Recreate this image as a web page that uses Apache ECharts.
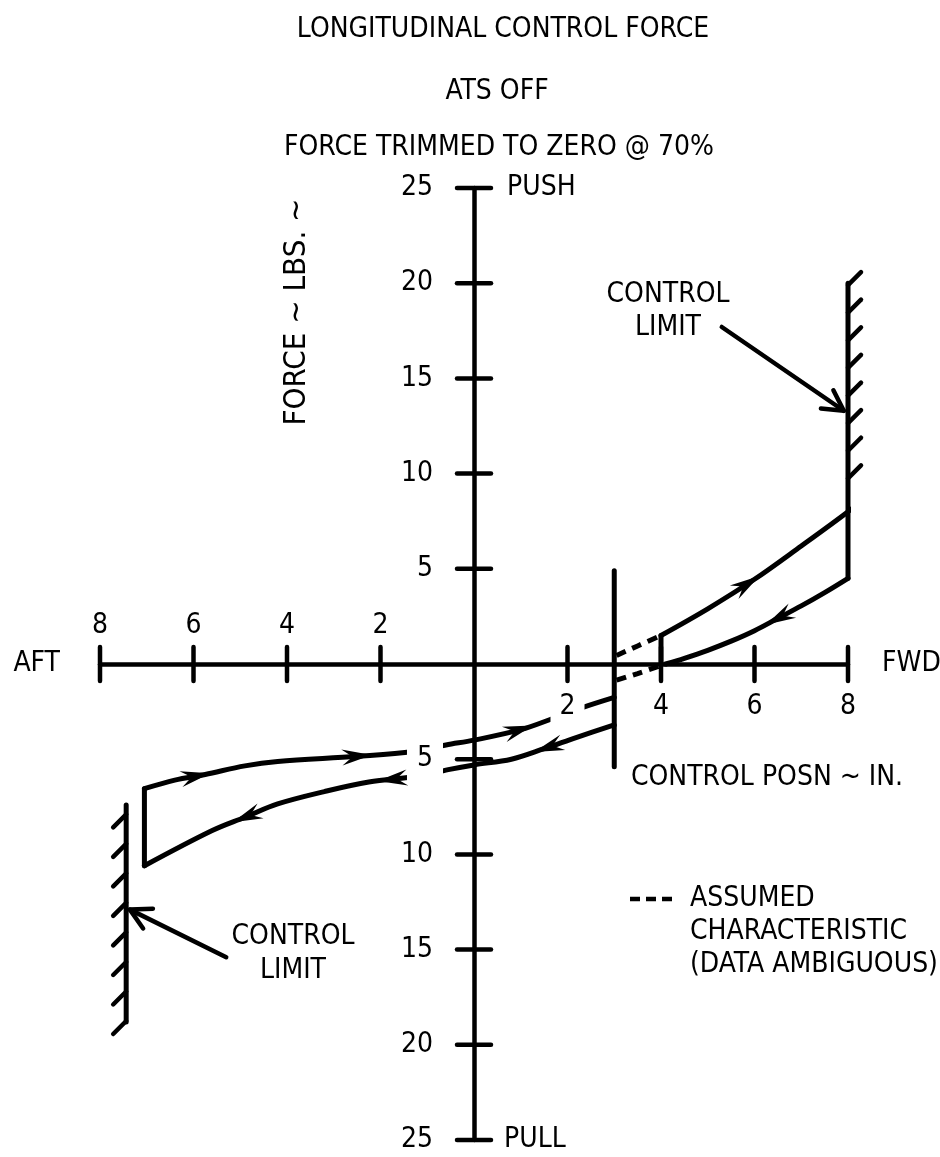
<!DOCTYPE html>
<html>
<head>
<meta charset="utf-8">
<script src="https://cdn.jsdelivr.net/npm/echarts@6/dist/echarts.min.js"></script>
<style>
  html, body { margin: 0; padding: 0; background: #fff; }
  #chart { width: 940px; height: 1157px; }
</style>
</head>
<body>
<div id="chart"></div>
<script>
// Longitudinal control force vs. control position (ATS off, trimmed to zero at 70%).
// Positive x = forward (in.), negative x = aft; positive force = push, negative = pull.

const FONT = '"Liberation Sans Narrow", "DejaVu Sans Condensed", "Liberation Sans", sans-serif';
const INK = '#000';
const LINE_W = 5;

// Axis ticks
const xTicks = [-8, -6, -4, -2, 2, 4, 6, 8];
const yTicks = [-25, -20, -15, -10, -5, 5, 10, 15, 20, 25];

// Forward (push) loop
const fwdOut  = [[4.0, 1.5], [5.0, 2.9], [6.0, 4.45], [7.0, 6.2], [8.0, 8.0], [8.4, 8.8]];
const fwdBack = [[8.0, 4.5], [7.5, 3.75], [7.0, 3.05], [6.5, 2.4], [6.0, 1.75], [5.5, 1.2], [5.0, 0.72], [4.5, 0.3], [4.1, 0.0]];
const fwdStep = [[4.0, 0.0], [4.0, 1.5]];

// Aft (pull) loop
const aftOut  = [[-7.05, -6.55], [-6.4, -6.1], [-5.75, -5.8], [-4.9, -5.35], [-4.2, -5.12], [-2.5, -4.85],
                 [-1.3, -4.6], [-0.6, -4.25], [0.0, -4.0], [1.0, -3.45], [1.7, -2.85], [2.3, -2.3], [3.0, -1.75]];
const aftBack = [[3.0, -3.2], [2.2, -3.85], [1.5, -4.45], [0.8, -5.0], [0.0, -5.3], [-0.55, -5.55], [-1.2, -5.9],
                 [-2.25, -6.2], [-3.2, -6.7], [-4.2, -7.35], [-4.9, -8.05], [-5.6, -8.75], [-7.05, -10.6]];
const aftStep = [[-7.05, -10.6], [-7.05, -6.55]];

// Breakout line at 3 in. forward
const breakout = [[3.0, 4.9], [3.0, -5.4]];

// Assumed characteristic (data ambiguous) – dashed
const assumedUpper = [[3.05, 0.45], [3.5, 0.95], [4.0, 1.5]];
const assumedLower = [[3.05, -0.85], [3.5, -0.5], [4.1, 0.0]];

// Control limits (stop position, extent of the wall, hatch stations)
const fwdLimitLine = [[8.0, 20.0], [8.0, 4.5]];
const fwdHatches = [19.9, 18.45, 17.0, 15.55, 14.1, 12.65, 11.2, 9.75];
const aftLimitLine = [[-7.44, -7.4], [-7.44, -18.8]];
const aftHatches = [-7.9, -9.45, -11.0, -12.55, -14.1, -15.65, -17.2, -18.75];

// "CONTROL LIMIT" pointers: [fromX, fromY, toX, toY]
const limitPointers = [[5.3, 17.7, 7.91, 13.3], [-5.3, -15.4, -7.36, -12.9]];

// Direction-of-travel arrows: which curve, at what position, which way
const curves = { fwdOut, fwdBack, aftOut, aftBack };
const travelArrows = [
  { on: 'fwdOut', x: 6.05, dir: 1 },
  { on: 'fwdBack', x: 6.3, dir: -1 },
  { on: 'aftOut', x: -5.7, dir: 1 },
  { on: 'aftOut', x: -2.25, dir: 1 },
  { on: 'aftOut', x: 1.2, dir: 1 },
  { on: 'aftBack', x: 1.35, dir: -1 },
  { on: 'aftBack', x: -2.0, dir: -1 },
  { on: 'aftBack', x: -5.1, dir: -1 }
];

function yAt(curve, x) {
  for (let i = 0; i < curve.length - 1; i++) {
    const [x0, y0] = curve[i], [x1, y1] = curve[i + 1];
    if (x0 !== x1 && (x - x0) * (x - x1) <= 0) return y0 + (y1 - y0) * (x - x0) / (x1 - x0);
  }
  return curve[curve.length - 1][1];
}

function curve(data, extra) {
  return Object.assign({
    type: 'line', data, symbol: 'none', smooth: 0.35, clip: false, silent: true, z: 3,
    lineStyle: { color: INK, width: LINE_W, cap: 'round', join: 'round' }
  }, extra || {});
}

function straight(data, extra) {
  return curve(data, Object.assign({ smooth: false }, extra || {}));
}

const textStyle = (size) => ({ fontFamily: FONT, fontSize: size, fill: INK });

const chart = echarts.init(document.getElementById('chart'));

chart.setOption({
  animation: false,
  backgroundColor: '#fff',
  grid: { left: 100, right: 92, top: 188, bottom: 17, containLabel: false },
  xAxis: {
    type: 'value', min: -8, max: 8,
    axisLine: { onZero: true, lineStyle: { color: INK, width: 4.5 } },
    axisTick: { show: false }, axisLabel: { show: false }, splitLine: { show: false }
  },
  yAxis: {
    type: 'value', min: -25, max: 25,
    axisLine: { onZero: true, lineStyle: { color: INK, width: 4.5 } },
    axisTick: { show: false }, axisLabel: { show: false }, splitLine: { show: false }
  },
  graphic: [
    { type: 'text', x: 503, y: 30, style: Object.assign({ text: 'LONGITUDINAL CONTROL FORCE', align: 'center', verticalAlign: 'middle' }, textStyle(28)) },
    { type: 'text', x: 497, y: 92, style: Object.assign({ text: 'ATS OFF', align: 'center', verticalAlign: 'middle' }, textStyle(28)) },
    { type: 'text', x: 499, y: 148, style: Object.assign({ text: 'FORCE TRIMMED TO ZERO @ 70%', align: 'center', verticalAlign: 'middle' }, textStyle(28)) },
    { type: 'text', x: 297, y: 312, rotation: Math.PI / 2, style: Object.assign({ text: 'FORCE ~ LBS. ~', align: 'center', verticalAlign: 'middle' }, textStyle(31)) },
    { type: 'text', x: 767, y: 778, style: Object.assign({ text: 'CONTROL POSN ~ IN.', align: 'center', verticalAlign: 'middle' }, textStyle(28)) },
    { type: 'text', x: 668, y: 311, style: Object.assign({ text: 'CONTROL\nLIMIT', align: 'center', verticalAlign: 'middle', lineHeight: 33 }, textStyle(28)) },
    { type: 'text', x: 293, y: 954, style: Object.assign({ text: 'CONTROL\nLIMIT', align: 'center', verticalAlign: 'middle', lineHeight: 34 }, textStyle(28)) },
    { type: 'line', shape: { x1: 630, y1: 899, x2: 674, y2: 899 }, style: { stroke: INK, lineWidth: 4.5, lineDash: [10, 6] } },
    { type: 'text', x: 690, y: 932, style: Object.assign({ text: 'ASSUMED\nCHARACTERISTIC\n(DATA AMBIGUOUS)', align: 'left', verticalAlign: 'middle', lineHeight: 33 }, textStyle(28)) }
  ],
  series: [
    // loops
    curve(fwdOut), curve(fwdBack), straight(fwdStep),
    curve(aftOut), curve(aftBack), straight(aftStep),
    straight(breakout),
    curve(assumedUpper, { lineStyle: { color: INK, width: LINE_W, type: [10, 7] } }),
    curve(assumedLower, { lineStyle: { color: INK, width: LINE_W, type: [10, 7] } }),
    // control limit walls
    straight(fwdLimitLine), straight(aftLimitLine),
    {
      type: 'custom', clip: false, silent: true, z: 3,
      data: fwdHatches.map(v => [fwdLimitLine[0][0], v]),
      renderItem: (params, api) => {
        const p = api.coord([api.value(0), api.value(1)]);
        return { type: 'line', shape: { x1: p[0], y1: p[1], x2: p[0] + 13, y2: p[1] - 13 }, style: { stroke: INK, lineWidth: 4.5, lineCap: 'round' } };
      }
    },
    {
      type: 'custom', clip: false, silent: true, z: 3,
      data: aftHatches.map(v => [aftLimitLine[0][0], v]),
      renderItem: (params, api) => {
        const p = api.coord([api.value(0), api.value(1)]);
        return { type: 'line', shape: { x1: p[0], y1: p[1], x2: p[0] - 13, y2: p[1] + 13 }, style: { stroke: INK, lineWidth: 4.5, lineCap: 'round' } };
      }
    },
    // "CONTROL LIMIT" pointers
    {
      type: 'custom', clip: false, silent: true, z: 3,
      data: limitPointers,
      renderItem: (params, api) => {
        const a = api.coord([api.value(0), api.value(1)]);
        const b = api.coord([api.value(2), api.value(3)]);
        const ang = Math.atan2(b[1] - a[1], b[0] - a[0]);
        const head = 23, spread = 0.5;
        const h1 = [b[0] - head * Math.cos(ang - spread), b[1] - head * Math.sin(ang - spread)];
        const h2 = [b[0] - head * Math.cos(ang + spread), b[1] - head * Math.sin(ang + spread)];
        const st = { stroke: INK, lineWidth: 4.5, lineCap: 'round', lineJoin: 'round', fill: null };
        return { type: 'group', children: [
          { type: 'line', shape: { x1: a[0], y1: a[1], x2: b[0], y2: b[1] }, style: st },
          { type: 'polyline', shape: { points: [h1, b, h2] }, style: st }
        ] };
      }
    },
    // direction-of-travel arrowheads
    {
      type: 'custom', clip: false, silent: true, z: 4,
      data: travelArrows.map(m => [m.x, yAt(curves[m.on], m.x)]),
      renderItem: (params, api) => {
        const m = travelArrows[params.dataIndex];
        const c = curves[m.on];
        const tip = api.coord([m.x, yAt(c, m.x)]);
        const bx = m.x - m.dir * 0.3;
        const back = api.coord([bx, yAt(c, bx)]);
        const ang = Math.atan2(tip[1] - back[1], tip[0] - back[0]);
        const L = 27, W = 8;
        const pt = (u, v) => [tip[0] + u * Math.cos(ang) - v * Math.sin(ang), tip[1] + u * Math.sin(ang) + v * Math.cos(ang)];
        return { type: 'polygon', shape: { points: [pt(3, 0), pt(-L, W), pt(-L * 0.6, 0), pt(-L, -W)] }, style: { fill: INK } };
      }
    },
    // axis ticks crossing both sides
    {
      type: 'custom', clip: false, silent: true, z: 5,
      data: xTicks.map(v => [v, 0]),
      renderItem: (params, api) => {
        const p = api.coord([api.value(0), 0]);
        return { type: 'line', shape: { x1: p[0], y1: p[1] - 17, x2: p[0], y2: p[1] + 17 }, style: { stroke: INK, lineWidth: 4.5, lineCap: 'round' } };
      }
    },
    {
      type: 'custom', clip: false, silent: true, z: 5,
      data: yTicks.map(v => [0, v]),
      renderItem: (params, api) => {
        const p = api.coord([0, api.value(1)]);
        return { type: 'line', shape: { x1: p[0] - 17, y1: p[1], x2: p[0] + 17, y2: p[1] }, style: { stroke: INK, lineWidth: 4.5, lineCap: 'round' } };
      }
    },
    // tick labels (magnitudes only; aft labels above the axis, forward labels below)
    {
      type: 'custom', clip: false, silent: true, z: 10,
      data: xTicks.map(v => [v, 0]),
      renderItem: (params, api) => {
        const v = api.value(0);
        const p = api.coord([v, 0]);
        return { type: 'text', x: p[0], y: p[1] + (v < 0 ? -38 : 43),
          style: Object.assign({ text: String(Math.abs(v)), align: 'center', verticalAlign: 'middle', backgroundColor: '#fff', padding: [3, 9] }, textStyle(28)) };
      }
    },
    {
      type: 'custom', clip: false, silent: true, z: 10,
      data: yTicks.map(v => [0, v]),
      renderItem: (params, api) => {
        const v = api.value(1);
        const p = api.coord([0, v]);
        return { type: 'text', x: p[0] - 31, y: p[1],
          style: Object.assign({ text: String(Math.abs(v)), align: 'right', verticalAlign: 'middle', backgroundColor: '#fff', padding: [8, 10] }, textStyle(28)) };
      }
    },
    // axis end captions
    {
      type: 'custom', clip: false, silent: true, z: 10,
      data: [[-8, 0], [8, 0], [0, 25], [0, -25]],
      renderItem: (params, api) => {
        const p = api.coord([api.value(0), api.value(1)]);
        const caps = [
          { text: 'AFT', dx: -40, dy: 0, align: 'right' },
          { text: 'FWD', dx: 34, dy: 0, align: 'left' },
          { text: 'PUSH', dx: 33, dy: 0, align: 'left' },
          { text: 'PULL', dx: 30, dy: 0, align: 'left' }
        ][params.dataIndex];
        return { type: 'text', x: p[0] + caps.dx, y: p[1] + caps.dy,
          style: Object.assign({ text: caps.text, align: caps.align, verticalAlign: 'middle' }, textStyle(28)) };
      }
    }
  ]
});
</script>
</body>
</html>
